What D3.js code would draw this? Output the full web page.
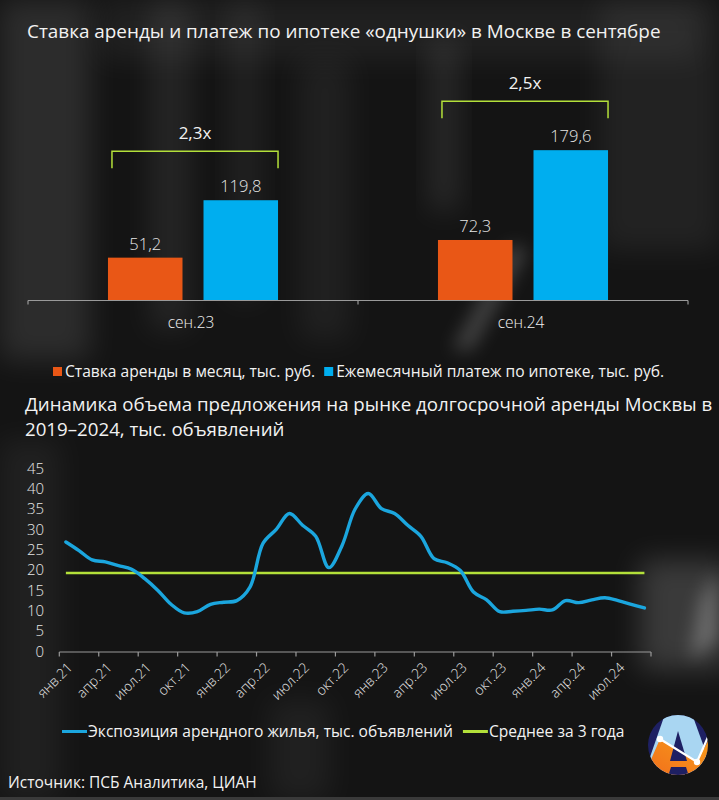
<!DOCTYPE html>
<html><head><meta charset="utf-8">
<script src="https://cdn.jsdelivr.net/npm/d3@7"></script>
<style>
html,body{margin:0;padding:0;background:#121212;}
svg{display:block;font-family:"Open Sans",sans-serif;}
</style></head>
<body>
<script>
// ---------- DATA ----------
const barCategories = ["сен.23", "сен.24"];
const barSeries = ["Ставка аренды в месяц, тыс. руб.", "Ежемесячный платеж по ипотеке, тыс. руб."];
const rentValues = [51.2, 72.3];
const mortgageValues = [119.8, 179.6];
const ratioLabels = ["2,3x", "2,5x"];

const monthNames = ["янв","фев","мар","апр","май","июн","июл","авг","сен","окт","ноя","дек"];
const years = ["21","22","23","24"];
const exposure = [26.9, 24.8, 22.5, 22.0, 21.1, 20.2, 17.9, 15.0, 11.6, 9.5, 9.8, 11.6,
                  12.1, 12.5, 15.8, 26.6, 30.0, 33.9, 31.0, 28.3, 20.6, 26.0, 35.0, 38.8,
                  35.1, 33.9, 31.0, 28.3, 22.8, 21.8, 19.9, 14.6, 12.7, 9.8, 9.9, 10.1,
                  10.4, 10.2, 12.5, 12.0, 12.7, 13.2, 12.5, 11.6, 10.7];
const average3y = [19.3];
const yTicks = [0, 5, 10, 15, 20, 25, 30, 35, 40, 45];
const lineSeries = ["Экспозиция арендного жилья, тыс. объявлений", "Среднее за 3 года"];
const title1 = "Ставка аренды и платеж по ипотеке «однушки» в Москве в сентябре";
const title2Lines = ["Динамика объема предложения на рынке долгосрочной аренды Москвы в", "2019–2024, тыс. объявлений"];
const sourceText = "Источник: ПСБ Аналитика, ЦИАН";

const months = [];
years.forEach(y => monthNames.forEach(m => months.push(m + "." + y)));
const monthCats = months.slice(0, exposure.length);

// ---------- COLORS ----------
const C_ORANGE = "#E95716", C_BLUE = "#00AEEF", C_LINE = "#1BA6DE", C_GREEN = "#B3E03A";
const C_TEXT = "#F2F2F2", C_AXIS = "#9a9a9a";

const W = 719, H = 800;
const svg = d3.select("body").append("svg").attr("width", W).attr("height", H);
const defs = svg.append("defs");

// ---------- BACKGROUND ----------
const blur = defs.append("filter").attr("id","blur").attr("x","-50%").attr("y","-50%").attr("width","200%").attr("height","200%");
blur.append("feGaussianBlur").attr("stdDeviation", 14);
const blur2 = defs.append("filter").attr("id","blur2").attr("x","-50%").attr("y","-50%").attr("width","200%").attr("height","200%");
blur2.append("feGaussianBlur").attr("stdDeviation", 9);
svg.append("rect").attr("width", W).attr("height", H).attr("fill", "#141414");
const bg = svg.append("g");
[[0,0,90,360,0.10],[150,0,40,330,0.07],[230,0,30,300,0.06],[300,60,50,280,0.05],
 [100,0,600,60,0.05],[600,0,119,250,0.06],[430,40,28,170,0.09],[0,440,60,360,0.05],
 [640,560,90,110,0.16],[270,700,60,100,0.05]].forEach(r=>{
  bg.append("rect").attr("x",r[0]).attr("y",r[1]).attr("width",r[2]).attr("height",r[3])
    .attr("fill","#fff").attr("opacity",r[4]).attr("filter","url(#blur)");
});
bg.append("path").attr("d","M452,350 L472,350 L528,250 L510,245 Z").attr("fill","#fff").attr("opacity",0.2).attr("filter","url(#blur2)");
bg.append("path").attr("d","M700,600 L719,570 L719,640 L690,660 Z").attr("fill","#fff").attr("opacity",0.25).attr("filter","url(#blur2)");
svg.append("rect").attr("x",0).attr("y",797).attr("width",W).attr("height",3).attr("fill","#3a3a3a");

// ---------- TOP BAR CHART ----------
svg.append("text").attr("x", 27).attr("y", 38).attr("fill", C_TEXT)
  .attr("font-size", 18.9).text(title1);

const xTop = d3.scaleBand().domain(barCategories).range([28, 688]).padding(0);
const xSub = d3.scaleBand().domain([0,1]).range([0, xTop.bandwidth()]).paddingInner(0.22).paddingOuter(0.837);
const yTop = d3.scaleLinear().domain([0, 200]).range([300.5, 133.1]);
const topData = barCategories.map((c,i)=>({cat:c, vals:[rentValues[i], mortgageValues[i]], ratio:ratioLabels[i]}));
const colors = [C_ORANGE, C_BLUE];
const g1 = svg.append("g");
topData.forEach(d=>{
  d.vals.forEach((v,j)=>{
    const x = xTop(d.cat) + xSub(j);
    g1.append("rect").attr("x", x).attr("y", yTop(v)).attr("width", xSub.bandwidth())
      .attr("height", yTop(0) - yTop(v)).attr("fill", colors[j]);
    g1.append("text").attr("x", x + xSub.bandwidth()/2).attr("y", yTop(v) - 8)
      .attr("text-anchor","middle").attr("fill", "#E6E6E6").attr("font-size", 16.5).attr("font-weight",300)
      .text(String(v).replace(".", ","));
  });
  // bracket
  const x0 = xTop(d.cat) + xSub(0) + 4, x1 = xTop(d.cat) + xSub(1) + xSub.bandwidth();
  const yb = yTop(d.vals[1]) - 49;
  g1.append("path").attr("d", `M${x0},${yb+17} L${x0},${yb} L${x1},${yb} L${x1},${yb+17}`)
    .attr("fill","none").attr("stroke", C_GREEN).attr("stroke-width", 1.5);
  g1.append("text").attr("x", (x0+x1)/2).attr("y", yb - 12).attr("text-anchor","middle")
    .attr("fill", C_TEXT).attr("font-size", 17).text(d.ratio);
});
const axTop = svg.append("g").attr("transform", "translate(0,300.5)");
axTop.append("line").attr("x1", 28).attr("x2", 688).attr("stroke", C_AXIS).attr("stroke-width", 1.2);
[28, xTop.range()[0] + xTop.step(), 688].forEach(x=>{
  axTop.append("line").attr("x1", x).attr("x2", x).attr("y1", 0).attr("y2", 4).attr("stroke", C_AXIS).attr("stroke-width",1.2);
});
barCategories.forEach(c=>{
  axTop.append("text").attr("x", xTop(c) + xTop.bandwidth()/2 - 2).attr("y", 27).attr("text-anchor","middle")
    .attr("fill", C_TEXT).attr("font-size", 15.5).attr("font-weight",300).text(c);
});
// top legend
const lg1 = svg.append("g").attr("transform","translate(53,377)");
let lx = 0;
barSeries.forEach((s,i)=>{
  lg1.append("rect").attr("x", lx).attr("y", -10).attr("width", 9).attr("height", 9).attr("fill", colors[i]);
  const t = lg1.append("text").attr("x", lx + 12).attr("y", 0).attr("fill", C_TEXT).attr("font-size", 15.6).text(s);
  lx += 12 + t.node().getComputedTextLength() + 9;
});

// ---------- BOTTOM LINE CHART ----------
title2Lines.forEach((s,i)=>{
  svg.append("text").attr("x", 25).attr("y", 410.5 + i*25.6).attr("fill", C_TEXT).attr("font-size", 18.7).text(s);
});

const xB = d3.scaleBand().domain(monthCats).range([59.3, 651]).padding(0);
const yB = d3.scaleLinear().domain([0, 45]).range([651.5, 468.3]);
const cx = m => xB(m) + xB.bandwidth()/2;

// y labels
yTicks.forEach(v=>{
  svg.append("text").attr("x", 44).attr("y", yB(v)).attr("dy","0.35em").attr("text-anchor","end")
    .attr("fill", "#E6E6E6").attr("font-size", 15).attr("font-weight",300).text(v);
});
// x axis
const axB = svg.append("g").attr("transform","translate(0,652)");
axB.append("line").attr("x1", 59.3).attr("x2", 651).attr("stroke", C_AXIS).attr("stroke-width", 1.2);
const tickPos = monthCats.filter((m,i)=>i%3===0).map(m=>xB(m)).concat([651]);
tickPos.forEach(x=>{
  axB.append("line").attr("x1", x).attr("x2", x).attr("y1", 0).attr("y2", 4.5).attr("stroke", C_AXIS).attr("stroke-width",1.2);
});
monthCats.filter((m,i)=>i%3===0).forEach(m=>{
  axB.append("text").attr("transform", `translate(${cx(m)+4},${13}) rotate(-45)`)
    .attr("text-anchor","end").attr("dy","0.35em").attr("fill","#E6E6E6").attr("font-size", 13.8).attr("font-weight",300).text(m);
});
// average line
svg.append("line").attr("x1", cx(monthCats[0])).attr("x2", cx(monthCats[monthCats.length-1]))
  .attr("y1", yB(average3y[0])).attr("y2", yB(average3y[0])).attr("stroke", C_GREEN).attr("stroke-width", 2.6);
// exposure line
const line = d3.line().x((d,i)=>cx(monthCats[i])).y(d=>yB(d)).curve(d3.curveCatmullRom.alpha(0.5));
svg.append("path").datum(exposure).attr("d", line).attr("fill","none").attr("stroke", C_LINE)
  .attr("stroke-width", 3.4).attr("stroke-linecap","round").attr("stroke-linejoin","round");

// bottom legend
const lg2 = svg.append("g").attr("transform","translate(62,737)");
let lx2 = 0;
[C_LINE, C_GREEN].forEach((c,i)=>{
  lg2.append("line").attr("x1", lx2).attr("x2", lx2 + 25).attr("y1", -5.5).attr("y2", -5.5).attr("stroke", c).attr("stroke-width", 3);
  const t = lg2.append("text").attr("x", lx2 + 26).attr("y", 0).attr("fill", C_TEXT).attr("font-size", 15.6).text(lineSeries[i]);
  lx2 += 26 + t.node().getComputedTextLength() + 10;
});

// source
svg.append("text").attr("x", 8).attr("y", 788).attr("fill", C_TEXT).attr("font-size", 15.5).text(sourceText);

// ---------- LOGO ----------
const logo = svg.append("g");
const cp = defs.append("clipPath").attr("id","logoClip");
cp.append("circle").attr("cx", 678).attr("cy", 745).attr("r", 30);
const og = defs.append("linearGradient").attr("id","og").attr("x1","0").attr("y1","1").attr("x2","1").attr("y2","0");
og.append("stop").attr("offset","0").attr("stop-color","#F26A1B");
og.append("stop").attr("offset","1").attr("stop-color","#F7A21B");
logo.append("circle").attr("cx", 678).attr("cy", 745).attr("r", 30).attr("fill", "#1E2063");
const lc = logo.append("g").attr("clip-path","url(#logoClip)");
lc.append("path").attr("d","M665,714 L692,714 L716,780 L642,780 Z").attr("fill","#A9D6F2");
lc.append("path").attr("d","M660,739 L697,762 L712,733 L716,780 L642,780 Z").attr("fill","url(#og)");
lc.append("path").attr("d","M678,731 L687,761 L670,761 Z").attr("fill","#1E2063");
lc.append("path").attr("d","M671,767 L686,767 L690,780 L667,780 Z").attr("fill","#1E2063");
lc.append("polyline").attr("points","660,739 697,762 712,728").attr("fill","none").attr("stroke","#fff").attr("stroke-width",2.2);
lc.append("circle").attr("cx",660).attr("cy",739).attr("r",3.2).attr("fill","#fff");
lc.append("circle").attr("cx",697).attr("cy",762).attr("r",3.2).attr("fill","#fff");
</script>
</body></html>
